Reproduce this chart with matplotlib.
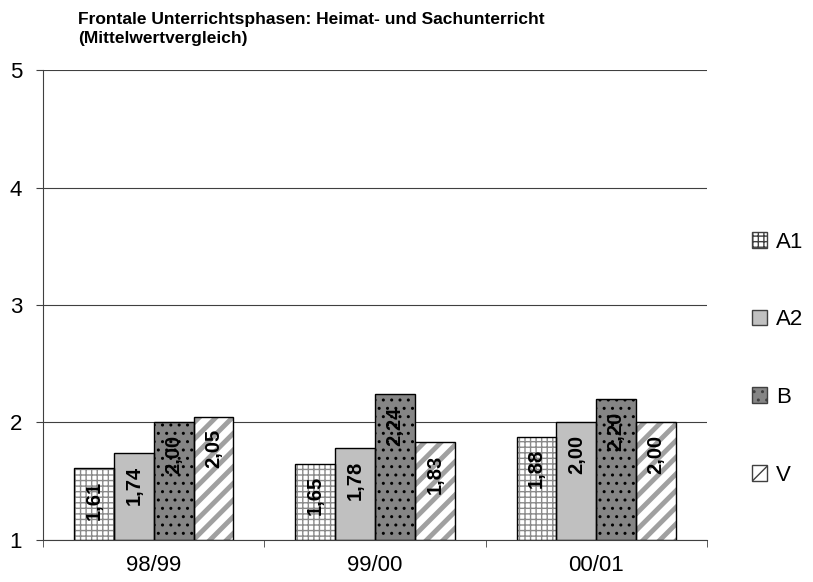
import numpy as np
import matplotlib as mpl
import matplotlib.pyplot as plt
from matplotlib.patches import Patch

plt.rcParams['font.family'] = ['Liberation Sans', 'DejaVu Sans']
plt.rcParams['hatch.linewidth'] = 1.0

## data
years = ['98/99', '99/00', '00/01']
series = ['A1', 'A2', 'B', 'V']
a1 = [1.61, 1.65, 1.88]
a2 = [1.74, 1.78, 2.00]
b = [2.00, 2.24, 2.20]
v = [2.05, 1.83, 2.00]
values = [a1, a2, b, v]

# face colour, hatch, hatch colour, hatch linewidth
styles = [('white', '+++', '#8a8a8a', 1.0),
          ('#c0c0c0', '', '#c0c0c0', 1.0),
          ('#858585', '..', 'black', 1.0),
          ('white', '//', '#a0a0a0', 3.5)]

fig = plt.figure(figsize=(8.13, 5.82), dpi=100)
ax = fig.add_axes([0.0529, 0.0722, 0.8167, 0.8075])

x = np.arange(len(years))
w = 0.18
for i, vals in enumerate(values):
    pos = x + (i - 1.5) * w
    fc, h, hc, hlw = styles[i]
    # fill + hatch first, then black outline on top
    with mpl.rc_context({'hatch.linewidth': hlw}):
        ax.bar(pos, np.array(vals) - 1, w, bottom=1, color=fc, hatch=h,
               edgecolor=hc, linewidth=0, zorder=2)
    ax.bar(pos, np.array(vals) - 1, w, bottom=1, fill=False,
           edgecolor='black', linewidth=1.0, zorder=3)
    for xp, val in zip(pos, vals):
        ax.annotate(('%.2f' % val).replace('.', ','), (xp, val),
                    xytext=(0, -9), textcoords='offset points',
                    rotation=90, ha='center', va='top',
                    fontsize=14.5, fontweight='bold', zorder=4)

ax.set_ylim(1, 5)
ax.set_xlim(-0.5, 2.5)
ax.set_yticks([1, 2, 3, 4, 5])
ax.yaxis.grid(True, color='#404040', linewidth=0.8, zorder=0)
ax.set_axisbelow(True)
ax.set_xticks(x)
ax.set_xticklabels(years, fontsize=16)
ax.set_xticks([-0.5, 0.5, 1.5, 2.5], minor=True)
ax.tick_params(axis='x', which='major', length=0, pad=11)
ax.tick_params(axis='x', which='minor', length=5, color='#404040')
ax.tick_params(axis='y', labelsize=16, length=5, color='#404040', pad=10)
for s in ['top', 'right']:
    ax.spines[s].set_visible(False)
for s in ['left', 'bottom']:
    ax.spines[s].set_color('#404040')

handles = []
for fc, h, hc, hlw in styles:
    handles.append(Patch(facecolor=fc, hatch=h, edgecolor='#404040'))
fig.legend(handles, series, loc='center left', bbox_to_anchor=(0.9, 0.384),
           frameon=False, fontsize=16, labelspacing=2.55,
           handlelength=0.7, handleheight=0.7, handletextpad=0.4)

fig.text(0.096, 0.98, 'Frontale Unterrichtsphasen: Heimat- und Sachunterricht\n(Mittelwertvergleich)',
         fontsize=12.5, fontweight='bold', va='top', ha='left', linespacing=1.4)

fig.savefig('out.png', dpi=100)
